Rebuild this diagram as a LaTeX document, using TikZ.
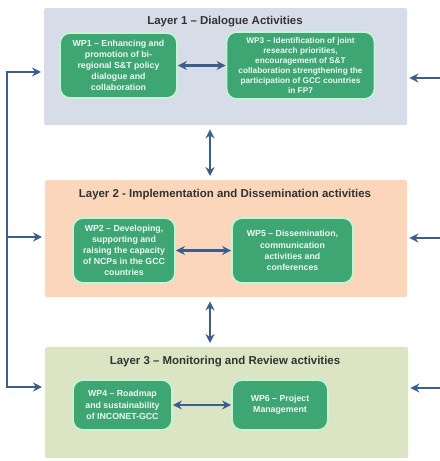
\documentclass[tikz,border=0pt]{standalone}
\usepackage{fontspec}
\setmainfont{Liberation Sans}
\usetikzlibrary{arrows.meta}
\definecolor{lay1}{HTML}{D7DDE8}
\definecolor{lay2}{HTML}{FBD6BA}
\definecolor{lay3}{HTML}{DCE5C3}
\definecolor{wpgreen}{HTML}{3DA673}
\definecolor{wpedge}{HTML}{C6F2D6}
\definecolor{arrblue}{HTML}{3B5E8E}
\tikzset{
  layer/.style={fill=#1, draw=none, rounded corners=2bp, anchor=north west},
  ltitle/.style={font=\fontsize{11.5}{13}\selectfont\bfseries, text=black!80},
  wp/.style={fill=wpgreen, draw=wpedge, line width=1.8bp, rounded corners=10bp,
    text=white!92!wpgreen, align=center, inner sep=1bp,
    font=\fontsize{8.8}{11.2}\selectfont\bfseries},
  wpsmall/.style={font=\fontsize{8.3}{10.2}\selectfont\bfseries},
  arr/.style={draw=arrblue, line width=2.6bp, -{Stealth[length=9bp,width=9bp]}},
  darr/.style={draw=arrblue, line width=2.6bp, {Stealth[length=9bp,width=9bp]}-{Stealth[length=9bp,width=9bp]}},
}
\begin{document}
\begin{tikzpicture}[x=1bp,y=-1bp]
\useasboundingbox (0,0) rectangle (440,461);
\fill[white] (0,0) rectangle (440,461);
% layers
\node[layer=lay1, minimum width=363bp, minimum height=117bp] (L1) at (44,8) {};
\node[layer=lay2, minimum width=362bp, minimum height=117bp] (L2) at (45,180) {};
\node[layer=lay3, minimum width=363bp, minimum height=111bp] (L3) at (45,347) {};
% titles
\node[ltitle] (T1) at (225,22) {Layer 1 – Dialogue Activities};
\node[ltitle] (T2) at (225,195) {Layer 2 - Implementation and Dissemination activities};
\node[ltitle] (T3) at (225,362) {Layer 3 – Monitoring and Review activities};
% work packages
\node[wp, minimum width=117bp, minimum height=65bp] (WP1) at (118.5,65.5)
  {WP1 – Enhancing and\\promotion of bi-\\regional S\&T policy\\dialogue and\\collaboration};
\node[wp, wpsmall, minimum width=148bp, minimum height=67bp] (WP3) at (300.5,65.5)
  {WP3 – Identification of joint\\research priorities,\\encouragement of S\&T\\collaboration strengthening the\\participation of GCC countries\\in FP7};
\node[wp, minimum width=102bp, minimum height=65bp] (WP2) at (124,250.5)
  {WP2 – Developing,\\supporting and\\raising the capacity\\of NCPs in the GCC\\countries};
\node[wp, minimum width=121bp, minimum height=65bp] (WP5) at (292.5,250.5)
  {WP5 – Dissemination,\\communication\\activities and\\conferences};
\node[wp, minimum width=99bp, minimum height=50bp] (WP4) at (122.5,405)
  {WP4 – Roadmap\\and sustainability\\of INCONET-GCC};
\node[wp, minimum width=96bp, minimum height=50bp] (WP6) at (280,405)
  {WP6 – Project\\Management};
% horizontal double arrows
\draw[darr] (WP1) -- (WP3);
\draw[darr] (WP2) -- (WP5);
\draw[darr] (WP4) -- (WP6);
% vertical double arrows
\coordinate (vx) at (210,0);
\draw[darr, shorten <=4bp, shorten >=4bp] (L1.south -| vx) -- (L2.north -| vx);
\draw[darr, shorten <=4bp, shorten >=4bp] (L2.south -| vx) -- (L3.north -| vx);
% left bus
\coordinate (b1) at (7,72);
\coordinate (b2) at (7,237);
\coordinate (b3) at (7,387);
\draw[draw=arrblue, line width=2.6bp, line join=miter] (b1) -- (b3);
\draw[arr, shorten >=3bp] ([xshift=-1.3bp]b1) -- (L1.west |- b1);
\draw[arr, shorten >=3bp] (b2) -- (L2.west |- b2);
\draw[arr, shorten >=3bp] ([xshift=-1.3bp]b3) -- (L3.west |- b3);
% right inputs
\coordinate (r1) at (440,78);
\coordinate (r2) at (440,238);
\coordinate (r3) at (440,388);
\draw[arr, shorten >=2bp] (r1) -- (L1.east |- r1);
\draw[arr, shorten >=2bp] (r2) -- (L2.east |- r2);
\draw[arr, shorten >=2bp] (r3) -- (L3.east |- r3);
\end{tikzpicture}
\end{document}
